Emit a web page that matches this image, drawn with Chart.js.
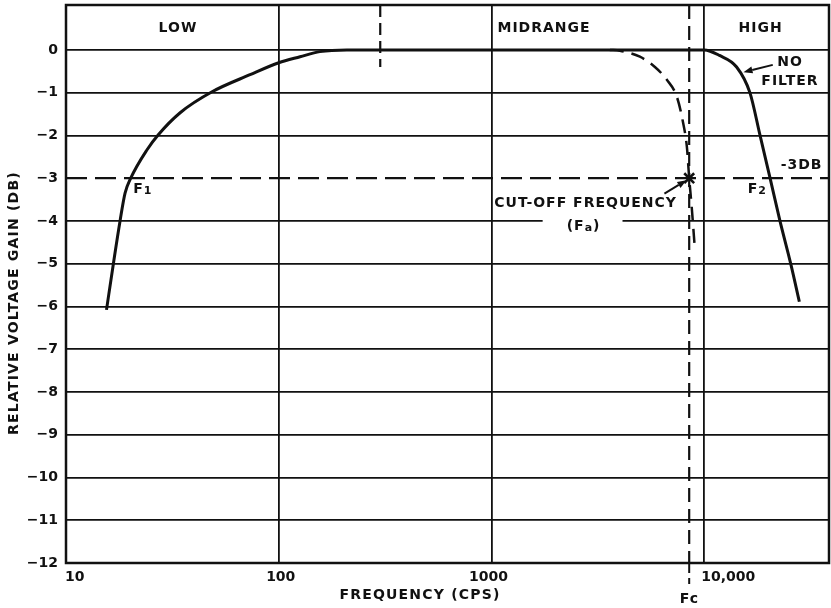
<!DOCTYPE html>
<html><head><meta charset="utf-8">
<script src="https://cdn.jsdelivr.net/npm/chart.js@4.4.1/dist/chart.umd.min.js"></script>
<style>html,body{margin:0;padding:0;background:#fff}#wrap{width:831px;height:608px;position:relative}</style>
</head><body><div id="wrap"><canvas id="c"></canvas></div>
<script>
// ---- data ----
const noFilterFreq = [15.5, 16.7, 17.95, 18.95, 20.15, 24.0, 27.1, 34.4, 48.6, 73.3, 100, 126, 156, 209, 10000, 11800, 14200, 16400, 18300, 20400, 22700, 25500, 28000];
const noFilterGain = [-6.08, -5.0, -4.0, -3.35, -3.0, -2.34, -1.99, -1.47, -0.98, -0.58, -0.3, -0.16, -0.04, 0, 0, -0.13, -0.4, -1.0, -2.0, -3.0, -4.0, -5.0, -5.89];
const filterFreq = [3600, 4015, 4985, 5865, 6675, 7440, 7940, 8290, 8500, 8755, 9045];
const filterGain = [0, -0.02, -0.16, -0.4, -0.7, -1.1, -1.68, -2.27, -3.0, -3.74, -4.68];
const cutoffFreq = 8500;
const cutoffGain = -3;
const bandDividerFreq = 300;
const bandDividerGain = [1.05, -0.4];
const bandNames = ['LOW', 'MIDRANGE', 'HIGH'];
const yTickValues = [0, -1, -2, -3, -4, -5, -6, -7, -8, -9, -10, -11, -12];
const xTickValues = [10, 100, 1000, 10000];
const xTickLabels = ['10', '100', '1000', '10,000'];
const xRange = [10, 38600];
const yRange = [-12, 1.05];

const INK = '#111';
const FONT = '"DejaVu Sans", sans-serif';

function drawText(ctx, s, x, y, align, size, spacing) {
  ctx.font = 'bold ' + size + 'px ' + FONT;
  ctx.letterSpacing = (spacing === undefined ? 1 : spacing) + 'px';
  ctx.textAlign = align; ctx.textBaseline = 'middle';
  ctx.fillText(s, x, y);
  return ctx.measureText(s).width;
}
function drawSub(ctx, pre, sub, post, x, y, align, size) {
  ctx.font = 'bold ' + size + 'px ' + FONT; ctx.letterSpacing = '1px';
  const w1 = ctx.measureText(pre).width;
  ctx.font = 'bold ' + (size - 3) + 'px ' + FONT;
  const w2 = ctx.measureText(sub).width;
  ctx.font = 'bold ' + size + 'px ' + FONT;
  const w3 = ctx.measureText(post).width;
  const total = w1 + w2 + w3;
  let sx = align === 'center' ? x - total / 2 : x;
  drawText(ctx, pre, sx, y, 'left', size);
  drawText(ctx, sub, sx + w1, y + 2, 'left', size - 3);
  if (post) drawText(ctx, post, sx + w1 + w2, y, 'left', size);
}
function arrow(ctx, x1, y1, x2, y2) {
  ctx.setLineDash([]); ctx.lineWidth = 2; ctx.strokeStyle = INK; ctx.fillStyle = INK;
  const ang = Math.atan2(y2 - y1, x2 - x1), L = 9, W = 3.5;
  const bx = x2 - L * Math.cos(ang), by = y2 - L * Math.sin(ang);
  ctx.beginPath(); ctx.moveTo(x1, y1); ctx.lineTo(bx, by); ctx.stroke();
  ctx.beginPath(); ctx.moveTo(x2, y2);
  ctx.lineTo(bx + W * Math.sin(ang), by - W * Math.cos(ang));
  ctx.lineTo(bx - W * Math.sin(ang), by + W * Math.cos(ang));
  ctx.closePath(); ctx.fill();
}

const decor = {
  id: 'decor',
  afterDraw(chart) {
    const { ctx, chartArea: a, scales: { x, y } } = chart;
    const px = v => x.getPixelForValue(v), py = v => y.getPixelForValue(v);
    ctx.save();
    // gap in the -4 grid line behind the (Fa) label
    ctx.fillStyle = '#fff';
    ctx.fillRect(px(1740), py(-4) - 3, px(4130) - px(1740), 6);
    // frame
    ctx.strokeStyle = INK; ctx.lineWidth = 2.5; ctx.setLineDash([]);
    ctx.strokeRect(a.left, a.top, a.right - a.left, a.bottom - a.top);
    // Fc tick below the axis
    ctx.lineWidth = 2; ctx.setLineDash([10, 5]);
    ctx.beginPath(); ctx.moveTo(px(cutoffFreq), a.bottom); ctx.lineTo(px(cutoffFreq), a.bottom + 21); ctx.stroke();
    ctx.setLineDash([]);
    ctx.fillStyle = INK;
    // x tick labels
    const xl = a.bottom + 14;
    drawText(ctx, xTickLabels[0], px(xTickValues[0]) - 1, xl, 'left', 14, 0);
    drawText(ctx, xTickLabels[1], px(xTickValues[1]) + 2, xl, 'center', 14, 0);
    drawText(ctx, xTickLabels[2], px(xTickValues[2]) - 3, xl, 'center', 14, 0);
    drawText(ctx, xTickLabels[3], px(xTickValues[3]) - 3, xl, 'left', 14, 0);
    // axis titles
    drawText(ctx, 'FREQUENCY (CPS)', 420, 595, 'center', 14, 1.2);
    drawText(ctx, 'Fc', px(cutoffFreq), 599, 'center', 14, 0.5);
    ctx.save(); ctx.translate(14, 303); ctx.rotate(-Math.PI / 2);
    drawText(ctx, 'RELATIVE VOLTAGE GAIN (DB)', 0, 0, 'center', 14, 1.2);
    ctx.restore();
    // band names
    const by = py(0.5);
    drawText(ctx, bandNames[0], px(33.6), by, 'center', 14);
    drawText(ctx, bandNames[1], px(1067), by, 'left', 14);
    drawText(ctx, bandNames[2], px(18400), by, 'center', 14);
    // no filter
    drawText(ctx, 'NO', px(25300), py(-0.29), 'center', 14);
    drawText(ctx, 'FILTER', px(25300), py(-0.74), 'center', 14);
    arrow(ctx, px(21000), py(-0.35), px(15300), py(-0.52));
    // -3DB
    drawText(ctx, '-3DB', px(28700), py(-2.71), 'center', 14);
    // F1, F2
    drawSub(ctx, 'F', '1', '', px(20.7), py(-3.25), 'left', 14);
    drawSub(ctx, 'F', '2', '', px(16000), py(-3.25), 'left', 14);
    // cut-off label
    drawText(ctx, 'CUT-OFF FREQUENCY', px(2770), py(-3.59), 'center', 14);
    drawSub(ctx, '(F', 'a', ')', px(2710), py(-4.12), 'center', 14);
    arrow(ctx, px(6500), py(-3.36), px(8250), py(-3.05));
    ctx.restore();
  }
};

const pts = (xs, ys) => xs.map((v, i) => ({ x: v, y: ys[i] }));
const noPad = s => { s.paddingTop = 0; s.paddingBottom = 0; s.paddingLeft = 0; s.paddingRight = 0; };

new Chart(document.getElementById('c'), {
  type: 'line',
  data: {
    datasets: [
      { label: 'Cut-off', data: [{ x: cutoffFreq, y: cutoffGain }], showLine: false,
        pointStyle: 'crossRot', pointRadius: 7, pointBorderWidth: 2.6, pointBorderColor: INK, pointBackgroundColor: INK },
      { label: 'No filter', data: pts(noFilterFreq, noFilterGain), borderColor: INK, borderWidth: 3,
        cubicInterpolationMode: 'monotone', pointRadius: 0 },
      { label: 'Filter', data: pts(filterFreq, filterGain), borderColor: INK, borderWidth: 2.5,
        borderDash: [14, 8], cubicInterpolationMode: 'monotone', pointRadius: 0 },
      { label: '-3 dB', data: [{ x: xRange[0], y: cutoffGain }, { x: xRange[1], y: cutoffGain }],
        borderColor: INK, borderWidth: 2.4, borderDash: [21, 8], pointRadius: 0 },
      { label: 'Fc', data: [{ x: cutoffFreq, y: yRange[1] }, { x: cutoffFreq, y: yRange[0] }],
        borderColor: INK, borderWidth: 2.2, borderDash: [14, 7], pointRadius: 0 },
      { label: 'Band divider', data: [{ x: bandDividerFreq, y: bandDividerGain[0] }, { x: bandDividerFreq, y: bandDividerGain[1] }],
        borderColor: INK, borderWidth: 2.2, borderDash: [12, 6], pointRadius: 0 }
    ]
  },
  options: {
    responsive: true, maintainAspectRatio: false, animation: false, devicePixelRatio: 1,
    layout: { autoPadding: false, padding: { left: 0, right: 2, top: 5, bottom: 0 } },
    plugins: { legend: { display: false }, tooltip: { enabled: false } },
    scales: {
      x: {
        type: 'logarithmic', min: xRange[0], max: xRange[1],
        afterBuildTicks: s => { s.ticks = xTickValues.map(v => ({ value: v })); },
        afterFit: s => { s.height = 45; noPad(s); },
        ticks: { display: false },
        grid: { color: INK, lineWidth: 1.8, drawTicks: false },
        border: { display: false }
      },
      y: {
        type: 'linear', min: yRange[0], max: yRange[1],
        afterBuildTicks: s => { s.ticks = yTickValues.map(v => ({ value: v })); },
        afterFit: s => { s.width = 66; noPad(s); },
        ticks: {
          color: INK, padding: 8, font: { family: FONT, weight: 'bold', size: 14 },
          callback: v => (v === 0 ? '0' : '\u2212' + Math.abs(v))
        },
        grid: {
          color: c => (c.tick && c.tick.value === cutoffGain ? 'rgba(0,0,0,0)' : INK),
          lineWidth: 1.8, drawTicks: false
        },
        border: { display: false }
      }
    }
  },
  plugins: [decor]
});
</script>
</body></html>
